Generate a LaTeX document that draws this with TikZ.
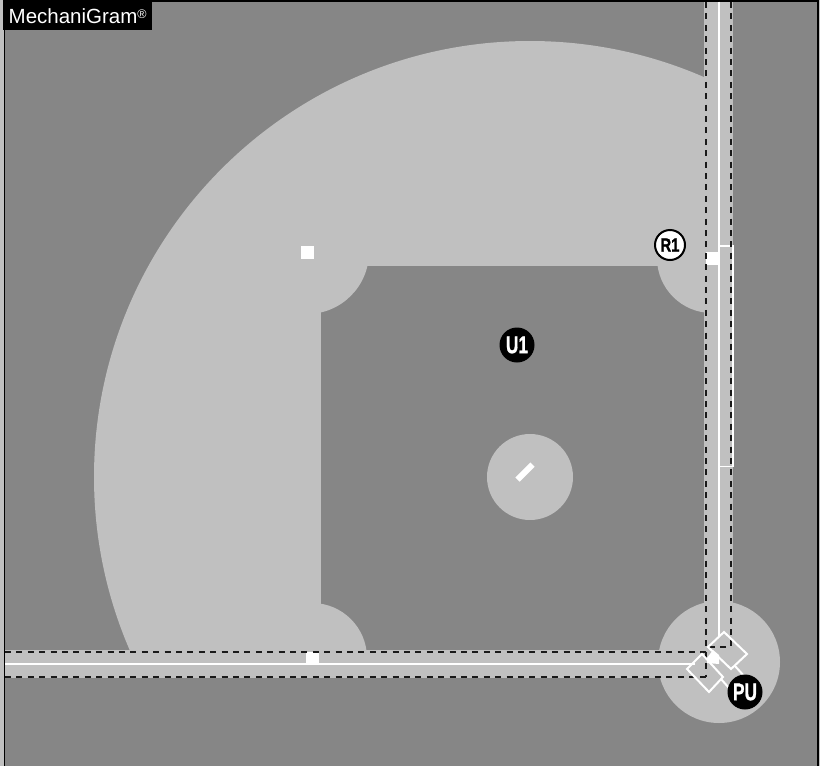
\documentclass[tikz,border=0pt]{standalone}
\usepackage{fontspec}
\setmainfont{Liberation Sans}
\newfontfamily\umpfont[BoldFeatures={FakeBold=1.2}]{Liberation Sans}
\definecolor{fieldlight}{HTML}{C0C0C0}
\definecolor{fielddark}{HTML}{868686}
\tikzset{
  px/.style={x=1pt,y=-1pt},
  turf/.style={fill=fielddark,draw=none},
  dirt/.style={fill=fieldlight,draw=none},
  baseline/.style={draw=black!90,line width=2pt,dash pattern=on 6pt off 5.4pt},
  chalk/.style={draw=white,line width=2pt},
  basebag/.style={fill=white,draw=none},
  umpblack/.style={circle,fill=black,draw=none,text=white,minimum size=35pt,inner sep=0pt,font=\umpfont\bfseries\fontsize{24}{24}\selectfont},
  umpwhite/.style={circle,fill=white,draw=black,line width=2pt,text=black,minimum size=30pt,inner sep=0pt,font=\umpfont\bfseries\fontsize{19}{19}\selectfont}
}
\begin{document}
\begin{tikzpicture}[px]
\useasboundingbox (0,0) rectangle (820,766);
\fill[fieldlight] (0,0) rectangle (820,766);
\fill[turf] (4.5,1) rectangle (818,766);
\draw[black,line width=1.3pt] (4.5,766) -- (4.5,1) -- (818,1) -- (818,766);
\begin{scope}
  \clip (5,1) rectangle (705,650);
  \fill[dirt] (530,477) circle[radius=436];
  \fill[turf] (321,266) rectangle (705,650);
  \fill[dirt] (307,252) circle[radius=62];
  \fill[dirt] (712,258) circle[radius=55];
  \fill[dirt] (312,658) circle[radius=55];
\end{scope}
\fill[dirt] (530,477) circle[radius=43];
\fill[dirt] (719,662) circle[radius=61];
\fill[dirt] (704,1.5) rectangle (733,664);
\fill[dirt] (5,650) rectangle (710,678);
% rubber and bases
\draw[white,line width=6pt] (517.5,479.5) -- (532.5,464.5);
\fill[basebag] (301,246) rectangle (314,259);
\fill[basebag] (706,252) rectangle (719,265);
\fill[basebag] (306,652) rectangle (319,664);
% foul lines and coach box
\draw[chalk] (719,1.5) -- (719,637);
\draw[chalk] (5,664) -- (695,664);
\draw[chalk,line width=1.6pt] (719,246) -- (733,246) -- (733,466.5) -- (719,466.5);
% dashed lanes
\draw[baseline] (706,2) -- (706,677);
\draw[baseline] (731,2) -- (731,647) -- (707,647);
\draw[baseline] (5,652) -- (708,652);
\draw[baseline] (5,677) -- (706,677);
% batter boxes
\draw[chalk] (724,632) -- (747,654) -- (731,669) -- (708,647) -- cycle;
\draw[chalk] (702,654) -- (723,677) -- (709,692) -- (687,669) -- cycle;
\draw[chalk] (735,666) -- (745,677);
\draw[chalk] (721,679) -- (729,688);
\fill[white] (713,650) -- (707,658) -- (707,663) -- (719,664) -- (719,655) -- cycle;
% umpires
\node[umpblack] (u1) at (517,345) {\scalebox{0.72}[1]{U1}};
\node[umpblack] (pu) at (745,692) {\scalebox{0.72}[1]{PU}};
\node[umpwhite] (r1) at (670,245) {\scalebox{0.78}[1]{R1}};
% logo
\fill[black] (3,0) rectangle (152,30);
\node[anchor=base west,text=white,inner sep=0pt,font=\fontsize{20.5}{20.5}\selectfont] (logo) at (8.5,23) {MechaniGram\raisebox{5pt}{\fontsize{12.5}{12.5}\selectfont ®}};
\end{tikzpicture}
\end{document}
